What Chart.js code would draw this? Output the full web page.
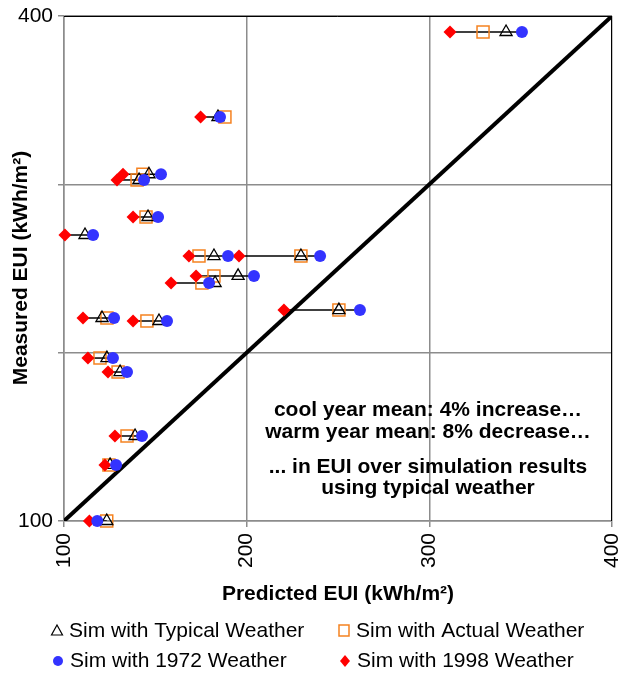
<!DOCTYPE html>
<html>
<head>
<meta charset="utf-8">
<script src="https://cdn.jsdelivr.net/npm/chart.js@4"></script>
<style>
  html, body { margin: 0; padding: 0; background: #fff; }
</style>
</head>
<body>
<canvas id="grafico_eui" width="623" height="673"></canvas>
<script>
// valores (kWh/m2)
const measured = [390.5, 340, 306, 302.6, 280.6, 269.9, 257.4, 257.4, 245.6, 241.4, 225.3, 220.6, 218.8, 196.8, 188.5, 150.5, 133.3, 100];
const simTypical = [342, 184.3, 146.5, 141.1, 146, 111.5, 182.1, 229.7, 195.3, 182.7, 250.5, 120.8, 152, 123.5, 130.7, 138.9, 125.2, 123.4];
const simActual = [329.4, 188.1, 143.2, 140, 144.9, 95, 173.9, 229.7, 182.1, 175.5, 250.5, 123.5, 145.4, 119.7, 129.6, 134.5, 124.6, 123.4];
const sim1972 = [350.7, 185.4, 153.1, 143.8, 151.5, 115.9, 189.8, 240.2, 204, 179.4, 262, 127.4, 156.4, 126.8, 134.5, 142.7, 128.5, 118.2];
const sim1998 = [311.3, 174.8, 132.3, 129, 137.8, 100.5, 168.4, 195.8, 172.3, 158.6, 220.4, 110.4, 137.8, 113.1, 124.1, 127.9, 122.4, 113.9];
const axisTicks = [100, 200, 300, 400];
const yLabelsShown = [100, 400];
const noteLines = ["cool year mean: 4% increase\u2026", "warm year mean: 8% decrease\u2026", "... in EUI over simulation results", "using typical weather"];

const FONT = "'Liberation Sans', Arial, sans-serif";
const BLUE = "#3333FF";
const RED = "#FF0000";
const ORANGE = "#F58220";

const pts = (xs) => xs.map((x, i) => ({ x: x, y: measured[i] }));
// los marcadores pueden salir un poco del area
const clipMarcas = 12;
// los valores fuera de escala (< 100) no se ven
const clipActual = { left: 0, top: 12, right: 12, bottom: 12 };

// linea negra que une los puntos de cada edificio
const conectores = measured.map((y, i) => {
  const xs = [simTypical[i], simActual[i], sim1972[i], sim1998[i]];
  return {
    label: "fila" + i,
    data: [{ x: Math.min(...xs), y: y }, { x: Math.max(...xs), y: y }],
    showLine: true,
    borderColor: "#000",
    borderWidth: 1.5,
    pointRadius: 0,
    order: 10,
    clip: 0,
  };
});

const datasets = [
  {
    label: "Sim with 1972 Weather",
    data: pts(sim1972),
    pointStyle: "circle",
    pointRadius: 6,
    backgroundColor: BLUE,
    borderColor: BLUE,
    borderWidth: 0,
    order: 1,
    clip: clipMarcas,
  },
  {
    label: "Sim with 1998 Weather",
    data: pts(sim1998),
    pointStyle: "rectRot",
    pointRadius: 6.5,
    backgroundColor: RED,
    borderColor: RED,
    borderWidth: 0,
    order: 2,
    clip: clipMarcas,
  },
  {
    label: "Sim with Typical Weather",
    data: pts(simTypical),
    pointStyle: "triangle",
    pointRadius: 7,
    backgroundColor: "rgba(0,0,0,0)",
    borderColor: "#000",
    borderWidth: 1.3,
    order: 3,
    clip: clipMarcas,
  },
  {
    label: "Sim with Actual Weather",
    data: pts(simActual),
    pointStyle: "rect",
    pointRadius: 8.5,
    backgroundColor: "rgba(0,0,0,0)",
    borderColor: ORANGE,
    borderWidth: 1.5,
    order: 4,
    clip: clipActual,
  },
  {
    label: "diagonal",
    data: [{ x: 100, y: 100 }, { x: 400, y: 400 }],
    showLine: true,
    borderColor: "#000",
    borderWidth: 4,
    pointRadius: 0,
    order: 20,
  },
].concat(conectores);

// textos, marco y leyenda dibujados a mano
const extras = {
  id: "extras",
  afterDraw(chart) {
    const ctx = chart.ctx;
    const a = chart.chartArea;
    ctx.save();

    // marco negro arriba y a la derecha
    ctx.strokeStyle = "#000";
    ctx.lineWidth = 1;
    ctx.beginPath();
    ctx.moveTo(a.left, a.top + 0.5);
    ctx.lineTo(a.right - 0.5, a.top + 0.5);
    ctx.lineTo(a.right - 0.5, a.bottom);
    ctx.stroke();

    ctx.fillStyle = "#000";
    ctx.textAlign = "center";
    ctx.textBaseline = "middle";

    // nota
    ctx.font = "bold 21px " + FONT;
    const ys = [410, 432, 467, 488];
    noteLines.forEach((t, i) => ctx.fillText(t, 428, ys[i]));

    // titulos de ejes
    ctx.fillText("Predicted EUI (kWh/m\u00B2)", 338, 594);
    ctx.save();
    ctx.translate(21, 268);
    ctx.rotate(-Math.PI / 2);
    ctx.fillText("Measured EUI (kWh/m\u00B2)", 0, 0);
    ctx.restore();

    // leyenda
    const items = [
      { t: "Sim with Typical Weather", s: "triangle", x: 57, y: 631 },
      { t: "Sim with Actual Weather", s: "rect", x: 344, y: 631 },
      { t: "Sim with 1972 Weather", s: "circle", x: 58, y: 661 },
      { t: "Sim with 1998 Weather", s: "rectRot", x: 345, y: 661 },
    ];
    ctx.font = "21px " + FONT;
    ctx.textAlign = "left";
    items.forEach((it) => {
      ctx.beginPath();
      if (it.s === "triangle") {
        ctx.moveTo(it.x, it.y - 6);
        ctx.lineTo(it.x + 5.5, it.y + 4);
        ctx.lineTo(it.x - 5.5, it.y + 4);
        ctx.closePath();
        ctx.strokeStyle = "#000";
        ctx.lineWidth = 1.2;
        ctx.stroke();
      } else if (it.s === "rect") {
        ctx.rect(it.x - 5, it.y - 6, 10, 11);
        ctx.strokeStyle = ORANGE;
        ctx.lineWidth = 1.5;
        ctx.stroke();
      } else if (it.s === "circle") {
        ctx.arc(it.x, it.y, 5, 0, Math.PI * 2);
        ctx.fillStyle = BLUE;
        ctx.fill();
      } else {
        ctx.moveTo(it.x, it.y - 6);
        ctx.lineTo(it.x + 5, it.y);
        ctx.lineTo(it.x, it.y + 6);
        ctx.lineTo(it.x - 5, it.y);
        ctx.closePath();
        ctx.fillStyle = RED;
        ctx.fill();
      }
      ctx.fillStyle = "#000";
      ctx.fillText(it.t, it.x + 12, it.y);
    });
    ctx.restore();
  },
};

const ctx = document.getElementById("grafico_eui").getContext("2d");

new Chart(ctx, {
  type: "scatter",
  data: { datasets: datasets },
  options: {
    responsive: false,
    animation: false,
    layout: { padding: { top: 16, right: 11, left: 0, bottom: 0 } },
    plugins: {
      legend: { display: false },
      tooltip: { enabled: false },
    },
    scales: {
      x: {
        type: "linear",
        min: 100,
        max: 400,
        afterFit: (s) => { s.height = 152; s.paddingLeft = 0; s.paddingRight = 0; },
        afterBuildTicks: (s) => { s.ticks = axisTicks.map((v) => ({ value: v })); },
        grid: { color: "#8C8C8C", lineWidth: 1.5, tickLength: 6 },
        border: { color: "#8C8C8C", width: 1.5 },
        ticks: {
          maxRotation: 90,
          minRotation: 90,
          padding: 6,
          color: "#000",
          font: { family: FONT, size: 21 },
        },
      },
      y: {
        type: "linear",
        min: 100,
        max: 400,
        afterFit: (s) => { s.width = 64; s.paddingTop = 0; s.paddingBottom = 0; },
        afterBuildTicks: (s) => { s.ticks = axisTicks.map((v) => ({ value: v })); },
        grid: { color: "#8C8C8C", lineWidth: 1.5, tickLength: 6 },
        border: { color: "#8C8C8C", width: 1.5 },
        ticks: {
          padding: 5,
          color: "#000",
          font: { family: FONT, size: 21 },
          callback: (v) => (yLabelsShown.includes(v) ? String(v) : ""),
        },
      },
    },
  },
  plugins: [extras],
});
</script>
</body>
</html>
